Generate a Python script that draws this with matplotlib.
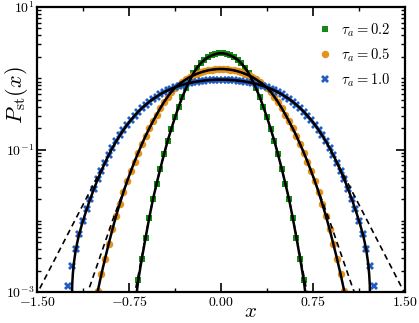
import numpy as np
import matplotlib
matplotlib.use("Agg")
import matplotlib.pyplot as plt
from matplotlib.ticker import FixedLocator, FixedFormatter, NullFormatter

plt.rcParams["mathtext.fontset"] = "cm"
plt.rcParams["font.family"] = "serif"
plt.rcParams["font.serif"] = ["DejaVu Serif"]

labels = [r"$\tau_a = 0.2$", r"$\tau_a = 0.5$", r"$\tau_a = 1.0$"]
colors = ["#138a13", "#e8921e", "#1f5cc4"]

# histogram bin centres (bin width 0.03)
x_g = np.arange(-0.675, 0.68, 0.03)
x_o = np.arange(-1.005, 1.01, 0.03)
x_b = np.arange(-1.245, 1.25, 0.03)

# log10 P_st of the simulation histograms
logp_g = [-2.83, -2.53, -2.24, -1.96, -1.70, -1.48, -1.27, -1.07, -0.88, -0.71, -0.55, -0.40,
          -0.26, -0.14, -0.03, 0.07, 0.15, 0.21, 0.26, 0.295, 0.32, 0.34, 0.35,
          0.35, 0.34, 0.32, 0.295, 0.26, 0.21, 0.15, 0.07, -0.03, -0.14, -0.26, -0.40,
          -0.55, -0.71, -0.88, -1.07, -1.27, -1.48, -1.70, -1.96, -2.24, -2.53, -2.83]
logp_o = [-2.99, -2.75, -2.53, -2.32, -2.12, -1.93, -1.76, -1.595, -1.445, -1.305, -1.17,
          -1.045, -0.925, -0.81, -0.705, -0.605, -0.51, -0.42, -0.335, -0.26, -0.19, -0.135,
          -0.09, -0.05, -0.015, 0.016, 0.041, 0.063, 0.082, 0.098, 0.111, 0.12, 0.126, 0.13,
          0.13, 0.126, 0.12, 0.111, 0.098, 0.082, 0.063, 0.041, 0.016, -0.015, -0.05, -0.09,
          -0.135, -0.19, -0.26, -0.335, -0.42, -0.51, -0.605, -0.705, -0.81, -0.925, -1.045,
          -1.17, -1.305, -1.445, -1.595, -1.76, -1.93, -2.12, -2.32, -2.53, -2.75, -2.99]
logp_b = [-2.91, -2.63, -2.39, -2.18, -2.00, -1.84, -1.69, -1.55, -1.42, -1.30, -1.185,
          -1.077, -0.978, -0.887, -0.803, -0.725, -0.652, -0.587, -0.526, -0.47, -0.419,
          -0.373, -0.33, -0.292, -0.257, -0.225, -0.196, -0.171, -0.148, -0.127, -0.109,
          -0.093, -0.078, -0.066, -0.055, -0.046, -0.039, -0.032, -0.027, -0.024, -0.021, -0.02,
          -0.02, -0.021, -0.024, -0.027, -0.032, -0.039, -0.046, -0.055, -0.066, -0.078,
          -0.093, -0.109, -0.127, -0.148, -0.171, -0.196, -0.225, -0.257, -0.292, -0.33,
          -0.373, -0.419, -0.47, -0.526, -0.587, -0.652, -0.725, -0.803, -0.887, -0.978,
          -1.077, -1.185, -1.30, -1.42, -1.55, -1.69, -1.84, -2.00, -2.18, -2.39, -2.63, -2.91]

# solid lines (theory): same as histograms in the bulk, own tails
xs_g = np.concatenate(([-0.69], x_g, [0.69]))
ls_g = [-3.05, -2.84] + logp_g[1:-1] + [-2.84, -3.05]
xs_o = np.concatenate(([-1.012], x_o, [1.012]))
ls_o = [-3.05] + logp_o + [-3.05]
xs_b = np.concatenate(([-1.2165, -1.213, -1.208, -1.2, -1.185, -1.17], x_b[3:-3],
                       [1.17, 1.185, 1.2, 1.208, 1.213, 1.2165]))
ls_b = [-3.3, -2.9, -2.75, -2.60, -2.42, -2.29] + logp_b[3:-3] + [-2.29, -2.42, -2.60, -2.75, -2.9, -3.3]

# dashed lines (approximation): coincide in the bulk, fatter tails
xd_g = np.concatenate(([-0.71], x_g, [0.71]))
ld_g = [-3.08, -2.77, -2.50, -2.22] + logp_g[3:-3] + [-2.22, -2.50, -2.77, -3.08]
xd_o = np.concatenate(([-1.125, -1.095, -1.065, -1.035], x_o, [1.035, 1.065, 1.095, 1.125]))
ld_o = ([-3.2, -3.04, -2.90, -2.75, -2.60, -2.45, -2.30, -2.15, -2.00, -1.86, -1.72, -1.585, -1.44]
        + logp_o[9:-9]
        + [-1.44, -1.585, -1.72, -1.86, -2.00, -2.15, -2.30, -2.45, -2.60, -2.75, -2.90, -3.04, -3.2])
xd_b = np.concatenate(([-1.515, -1.485, -1.455, -1.425, -1.395, -1.365, -1.335, -1.305, -1.275], x_b,
                       [1.275, 1.305, 1.335, 1.365, 1.395, 1.425, 1.455, 1.485, 1.515]))
ld_b = ([-3.075, -2.975, -2.875, -2.775, -2.675, -2.575, -2.475, -2.375, -2.275, -2.175,
         -2.075, -1.975, -1.875, -1.775, -1.675, -1.575, -1.475, -1.375, -1.275, -1.175]
        + logp_b[11:-11]
        + [-1.175, -1.275, -1.375, -1.475, -1.575, -1.675, -1.775, -1.875, -1.975, -2.075,
           -2.175, -2.275, -2.375, -2.475, -2.575, -2.675, -2.775, -2.875, -2.975, -3.075])

fig = plt.figure(figsize=(4.19, 3.23), dpi=100)
ax = fig.add_axes([37 / 419, 1 - 292 / 323, 368 / 419, 285 / 323])

ax.plot(x_g, 10 ** np.array(logp_g), "s", color=colors[0], ms=5.0, mew=0, label=labels[0], zorder=2)
ax.plot(x_o, 10 ** np.array(logp_o), "o", color=colors[1], ms=5.4, mew=0, label=labels[1], zorder=2)
ax.plot(x_b, 10 ** np.array(logp_b), "X", color=colors[2], ms=5.8, mew=0, label=labels[2], zorder=2)

for xd, ld in [(xd_g, ld_g), (xd_o, ld_o), (xd_b, ld_b)]:
    ax.plot(xd, 10 ** np.array(ld), color="k", lw=1.2, ls=(0, (3.5, 2.5)), zorder=3)
for xs, ls in [(xs_g, ls_g), (xs_o, ls_o), (xs_b, ls_b)]:
    ax.plot(xs, 10 ** np.array(ls), color="k", lw=1.8, zorder=4)

ax.set_yscale("log")
ax.set_xlim(-1.5, 1.5)
ax.set_ylim(1e-3, 1e1)

ax.xaxis.set_major_locator(FixedLocator([-1.5, -0.75, 0.0, 0.75, 1.5]))
ax.xaxis.set_major_formatter(FixedFormatter([r"$-1.50$", r"$-0.75$", r"$0.00$", r"$0.75$", r"$1.50$"]))
ax.xaxis.set_minor_locator(FixedLocator([-1.125, -0.375, 0.375, 1.125]))
ax.yaxis.set_major_locator(FixedLocator([1e-3, 1e-1, 1e1]))
ax.yaxis.set_major_formatter(FixedFormatter([r"$10^{-3}$", r"$10^{-1}$", r"$10^{1}$"]))
yminor = [k * 10.0 ** n for n in range(-3, 1) for k in range(1, 10) if not (k == 1 and n in (-3, -1))]
ax.yaxis.set_minor_locator(FixedLocator(yminor))
ax.yaxis.set_minor_formatter(NullFormatter())

ax.tick_params(which="both", direction="in", top=True, right=True, labelsize=10, pad=2)
ax.tick_params(which="major", length=6.5, width=1.2)
ax.tick_params(which="minor", length=3.2, width=1.0)
for sp in ax.spines.values():
    sp.set_linewidth(1.6)

ax.set_xlabel(r"$x$", fontsize=15)
ax.xaxis.set_label_coords(0.58, -0.035)
ax.set_ylabel(r"$P_{\mathrm{st}}(x)$", fontsize=16)
ax.yaxis.set_label_coords(-0.02, 0.69)

ax.legend(loc="upper right", frameon=False, fontsize=10.5, handlelength=1.0,
          handletextpad=0.6, labelspacing=0.5, borderaxespad=0.6)

fig.savefig("out.png", dpi=100)
